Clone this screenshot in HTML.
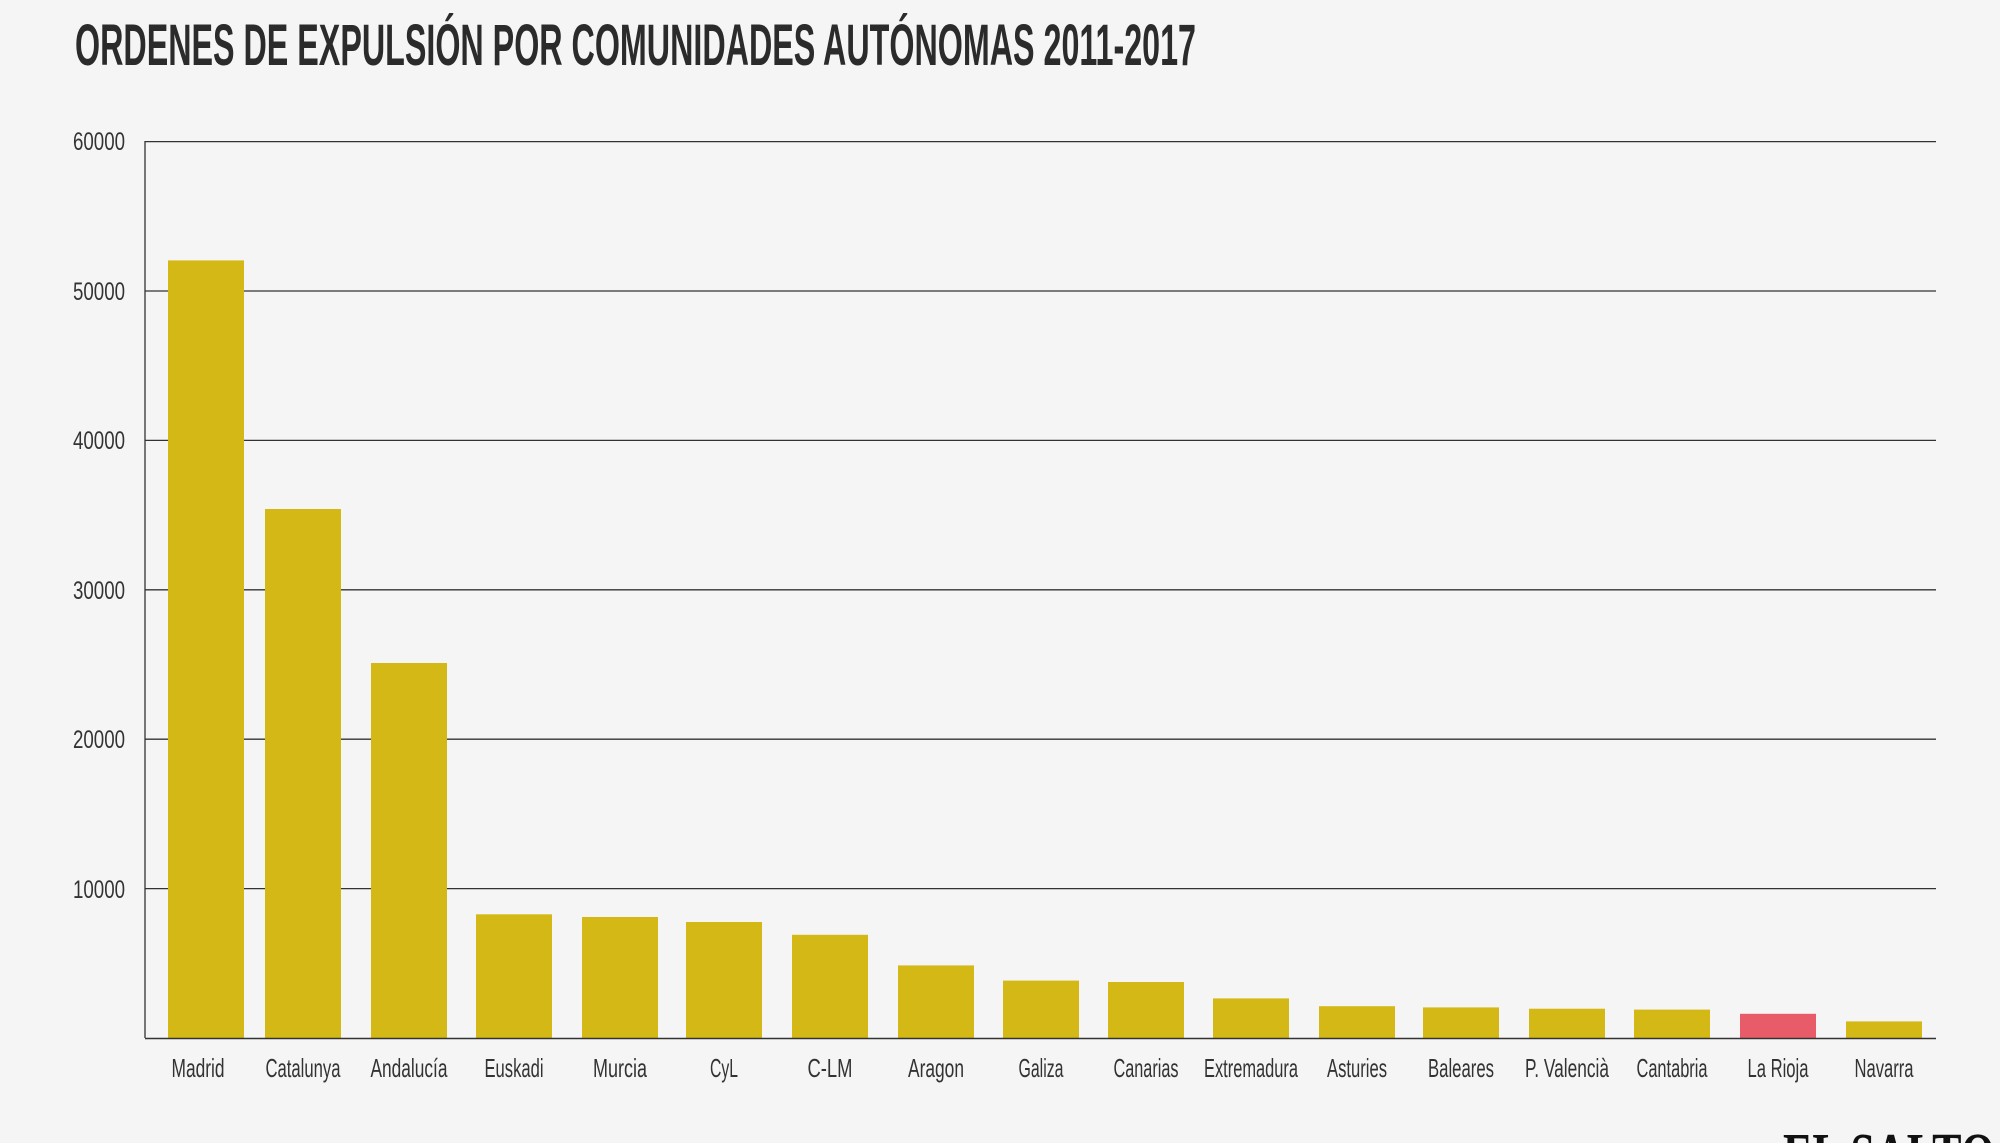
<!DOCTYPE html>
<html><head><meta charset="utf-8"><style>
html,body{margin:0;padding:0;background:#f5f5f5;}
svg{display:block;}
</style></head><body>
<svg width="2000" height="1143" viewBox="0 0 2000 1143" xmlns="http://www.w3.org/2000/svg">
<rect width="2000" height="1143" fill="#f5f5f5"/>
<text x="75" y="65" font-family="Liberation Sans Narrow, Liberation Sans, sans-serif" font-weight="bold" font-size="58" fill="#2b2b2b" textLength="1121" lengthAdjust="spacingAndGlyphs">ORDENES DE EXPULSIÓN POR COMUNIDADES AUTÓNOMAS 2011-2017</text>
<g stroke="#333" stroke-width="1.3">
<line x1="145" y1="141.6" x2="1936" y2="141.6"/>
<line x1="145" y1="291" x2="1936" y2="291"/>
<line x1="145" y1="440.4" x2="1936" y2="440.4"/>
<line x1="145" y1="589.8" x2="1936" y2="589.8"/>
<line x1="145" y1="739.2" x2="1936" y2="739.2"/>
<line x1="145" y1="888.6" x2="1936" y2="888.6"/>
<line x1="145" y1="141" x2="145" y2="1038"/>
</g>
<g font-family="Liberation Sans Narrow, Liberation Sans, sans-serif" font-size="25" fill="#333" text-anchor="end">
<text x="125" y="150" textLength="52" lengthAdjust="spacingAndGlyphs">60000</text>
<text x="125" y="300" textLength="52" lengthAdjust="spacingAndGlyphs">50000</text>
<text x="125" y="449" textLength="52" lengthAdjust="spacingAndGlyphs">40000</text>
<text x="125" y="599" textLength="52" lengthAdjust="spacingAndGlyphs">30000</text>
<text x="125" y="748" textLength="52" lengthAdjust="spacingAndGlyphs">20000</text>
<text x="125" y="898" textLength="52" lengthAdjust="spacingAndGlyphs">10000</text>
</g>
<g fill="#d4b916">
<rect x="168" y="260.4" width="76" height="777.6"/>
<rect x="265" y="509" width="76" height="529"/>
<rect x="371" y="663" width="76" height="375"/>
<rect x="476" y="914.3" width="76" height="123.7"/>
<rect x="582" y="917" width="76" height="121"/>
<rect x="686" y="922" width="76" height="116"/>
<rect x="792" y="934.8" width="76" height="103.2"/>
<rect x="898" y="965.4" width="76" height="72.6"/>
<rect x="1003" y="980.6" width="76" height="57.4"/>
<rect x="1108" y="982" width="76" height="56"/>
<rect x="1213" y="998.4" width="76" height="39.6"/>
<rect x="1319" y="1006.2" width="76" height="31.8"/>
<rect x="1423" y="1007.4" width="76" height="30.6"/>
<rect x="1529" y="1008.7" width="76" height="29.3"/>
<rect x="1634" y="1009.6" width="76" height="28.4"/>
<rect x="1846" y="1021.4" width="76" height="16.6"/>
</g>
<rect x="1740" y="1013.8" width="76" height="24.2" fill="#e85c6a"/>
<line x1="145" y1="1038.5" x2="1936" y2="1038.5" stroke="#333" stroke-width="1.5"/>
<g font-family="Liberation Sans Narrow, Liberation Sans, sans-serif" font-size="26" fill="#333" text-anchor="middle">
<text x="198" y="1077" textLength="53" lengthAdjust="spacingAndGlyphs">Madrid</text>
<text x="303" y="1077" textLength="75" lengthAdjust="spacingAndGlyphs">Catalunya</text>
<text x="409" y="1077" textLength="77" lengthAdjust="spacingAndGlyphs">Andalucía</text>
<text x="514" y="1077" textLength="59" lengthAdjust="spacingAndGlyphs">Euskadi</text>
<text x="620" y="1077" textLength="54" lengthAdjust="spacingAndGlyphs">Murcia</text>
<text x="724" y="1077" textLength="28" lengthAdjust="spacingAndGlyphs">CyL</text>
<text x="830" y="1077" textLength="45" lengthAdjust="spacingAndGlyphs">C-LM</text>
<text x="936" y="1077" textLength="56" lengthAdjust="spacingAndGlyphs">Aragon</text>
<text x="1041" y="1077" textLength="45" lengthAdjust="spacingAndGlyphs">Galiza</text>
<text x="1146" y="1077" textLength="65" lengthAdjust="spacingAndGlyphs">Canarias</text>
<text x="1251" y="1077" textLength="94" lengthAdjust="spacingAndGlyphs">Extremadura</text>
<text x="1357" y="1077" textLength="60" lengthAdjust="spacingAndGlyphs">Asturies</text>
<text x="1461" y="1077" textLength="66" lengthAdjust="spacingAndGlyphs">Baleares</text>
<text x="1567" y="1077" textLength="84" lengthAdjust="spacingAndGlyphs">P. Valencià</text>
<text x="1672" y="1077" textLength="71" lengthAdjust="spacingAndGlyphs">Cantabria</text>
<text x="1778" y="1077" textLength="61" lengthAdjust="spacingAndGlyphs">La Rioja</text>
<text x="1884" y="1077" textLength="59" lengthAdjust="spacingAndGlyphs">Navarra</text>
</g>
<text x="1783" y="1176" font-family="Liberation Serif, serif" font-weight="bold" font-size="62" fill="#111" textLength="212" lengthAdjust="spacingAndGlyphs">EL SALTO</text>
</svg>
</body></html>
